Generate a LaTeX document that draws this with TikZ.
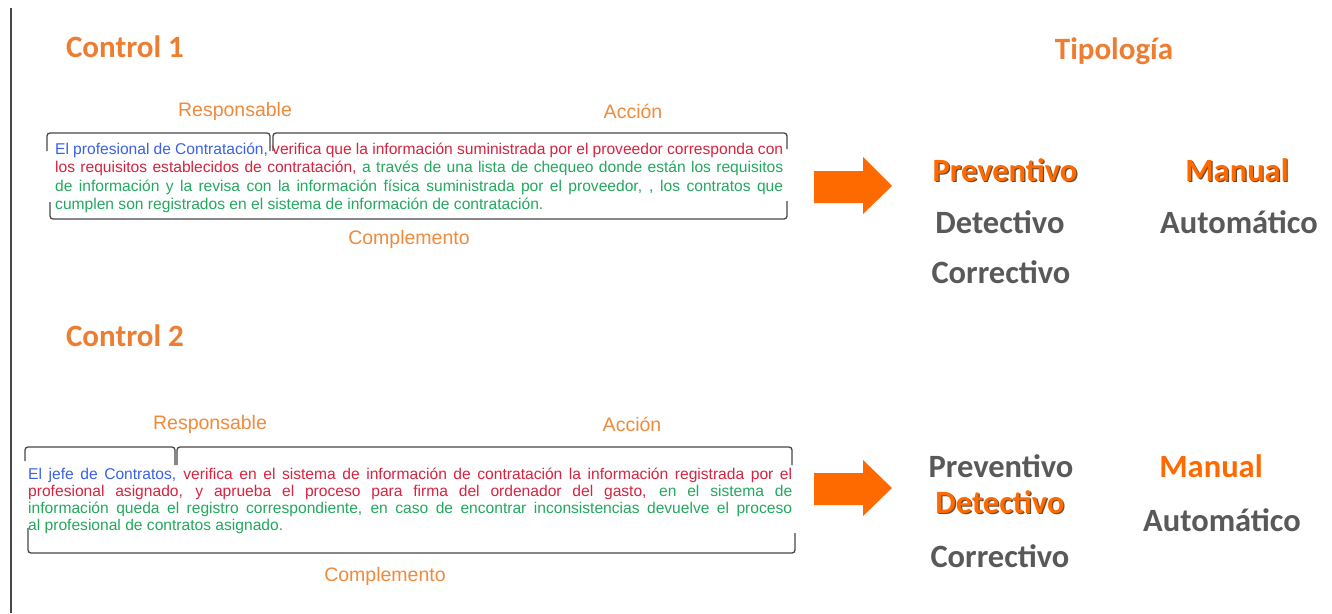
\documentclass[tikz,border=0pt]{standalone}
\usepackage{fontspec}
\setmainfont{Liberation Sans}
\newfontfamily\calib{Carlito}
\definecolor{ttl}{HTML}{ED7D31}
\definecolor{lbl}{HTML}{F08A3C}
\definecolor{arr}{HTML}{FF6A00}
\definecolor{gry}{HTML}{595959}
\definecolor{cb}{HTML}{3A62E8}
\definecolor{cr}{HTML}{D9233F}
\definecolor{cg}{HTML}{23A95E}
\definecolor{brk}{HTML}{474747}
\definecolor{shd}{HTML}{6B4A30}
\tikzset{
  title/.style={font=\calib\bfseries\fontsize{31}{36}\selectfont, text=ttl, inner sep=0pt},
  lab/.style={font=\fontsize{19.5}{23}\selectfont, text=lbl, inner sep=0pt},
  typ/.style={font=\calib\bfseries\fontsize{32.5}{37}\selectfont, text=gry, inner sep=0pt},
  typsel/.style={font=\calib\bfseries\fontsize{32.5}{37}\selectfont, text=arr, inner sep=0pt},
  typshadow/.style={font=\calib\bfseries\fontsize{32.5}{37}\selectfont, text=shd, inner sep=0pt},
  para/.style={font=\fontsize{15.6}{18.3}\selectfont, inner sep=0pt, align=justify, anchor=north west},
  paratight/.style={font=\fontsize{15.6}{16.9}\selectfont, inner sep=0pt, align=justify, anchor=north west},
  bracket/.style={draw=brk, line width=1.3pt, rounded corners=3pt},
  blockarrow/.style={fill=arr, draw=none},
}
\begin{document}
\begin{tikzpicture}[x=1pt,y=-1pt]
\useasboundingbox (0,0) rectangle (1332,613);
\fill[white] (0,0) rectangle (1332,613);
% left rule
\coordinate (lt) at (11,8);
\coordinate (lb) at (11,613);
\draw[brk, line width=1.2pt] (lt) -- (lb);

% titles
\node[title] (c1) at (125,47) {Control 1};
\node[title] (c2) at (125,336) {Control 2};
\node[title] (tip) at (1114,51) {Tipología};

% ---------- Control 1 ----------
\node[lab] (r1) at (235,111) {Responsable};
\node[lab] (a1) at (633,111) {Acción};
\node[lab] (k1) at (409,239) {Complemento};
\draw[bracket] (47,151) -- (47,133) -- (270,133) -- (270,151);
\draw[bracket] (273,151) -- (273,133) -- (787,133) -- (787,149);
\draw[bracket] (50,202) -- (50,219) -- (787,219) -- (787,201);
\node[para, text width=728pt] (p1) at (55,143) {\color{cb}El profesional de Contratación, \color{cr}verifica que la información suministrada por el proveedor corresponda con\linebreak los requisitos establecidos de contratación, \color{cg}a través de una lista de chequeo donde están los requisitos\linebreak de información y la revisa con la información física suministrada por el proveedor, , los contratos que\linebreak cumplen son registrados en el sistema de información de contratación.};

\draw[blockarrow] (814,171) -- (863,171) -- (863,157) -- (892,186) -- (863,214) -- (863,203) -- (814,203) -- cycle;
\node[typshadow] (pv1s) at (1006.2,171.2) {Preventivo};
\node[typsel] (pv1) at (1005,170) {Preventivo};
\node[typ] (dt1) at (1000,222) {Detectivo};
\node[typ] (co1) at (1001,272) {Correctivo};
\node[typshadow] (ma1s) at (1238.2,171.2) {Manual};
\node[typsel] (ma1) at (1237,170) {Manual};
\node[typ] (au1) at (1239,222) {Automático};

% ---------- Control 2 ----------
\node[lab] (r2) at (210,424) {Responsable};
\node[lab] (a2) at (632,424) {Acción};
\node[lab] (k2) at (385,576) {Complemento};
\draw[bracket] (25,461) -- (25,447) -- (175,447) -- (175,465);
\draw[bracket] (177,465) -- (177,447) -- (792,447) -- (792,465);
\draw[bracket] (28,528) -- (28,553) -- (795,553) -- (795,533);
\node[paratight, text width=764pt] (p2) at (28,468) {\color{cb}El jefe de Contratos, \color{cr}verifica en el sistema de información de contratación la información registrada por el\linebreak profesional asignado, y aprueba el proceso para firma del ordenador del gasto, \color{cg}en el sistema de\linebreak información queda el registro correspondiente, en caso de encontrar inconsistencias devuelve el proceso\linebreak al profesional de contratos asignado.};

\draw[blockarrow] (814,473) -- (863,473) -- (863,460) -- (892,488) -- (863,516) -- (863,505) -- (814,505) -- cycle;
\node[typ] (pv2) at (1001,466) {Preventivo};
\node[typshadow] (dt2s) at (1001.2,503.2) {Detectivo};
\node[typsel] (dt2) at (1000,502) {Detectivo};
\node[typ] (co2) at (1000,556) {Correctivo};
\node[typsel] (ma2) at (1211,466) {Manual};
\node[typ] (au2) at (1222,520) {Automático};
\end{tikzpicture}
\end{document}
